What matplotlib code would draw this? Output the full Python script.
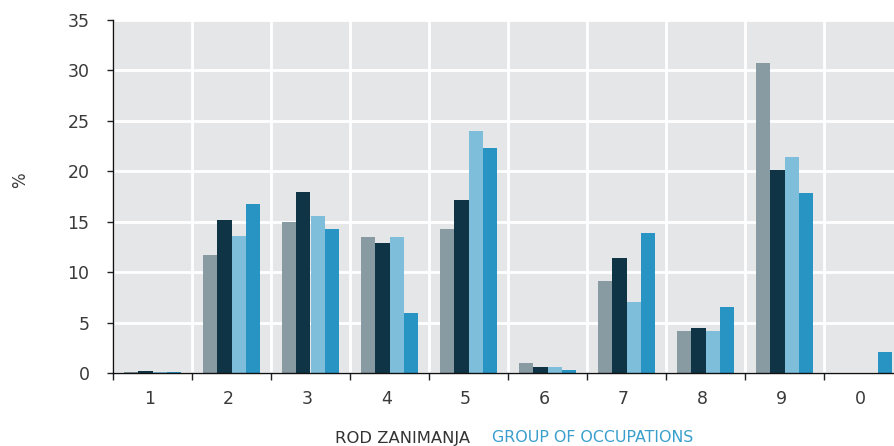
import numpy as np
import matplotlib.pyplot as plt
from matplotlib.ticker import FixedLocator

groups = ["1", "2", "3", "4", "5", "6", "7", "8", "9", "0"]
series_a = [0.1, 11.7, 15.0, 13.5, 14.3, 1.0, 9.1, 4.2, 30.7, 0.0]
series_b = [0.15, 15.2, 17.9, 12.9, 17.2, 0.6, 11.4, 4.5, 20.1, 0.0]
series_c = [0.1, 13.6, 15.6, 13.5, 24.0, 0.6, 7.0, 4.2, 21.4, 0.0]
series_d = [0.1, 16.8, 14.3, 5.9, 22.3, 0.3, 13.85, 6.5, 17.8, 2.05]
colors = ["#889ba2", "#0f3446", "#7fbedb", "#2794c3"]

fig = plt.figure(figsize=(8.94, 4.46), dpi=100)
ax = fig.add_axes([113 / 894, 73 / 446, 790 / 894, 353 / 446])
ax.set_facecolor("#e5e6e8")

x = np.arange(len(groups))
w = 0.18
for i, (vals, c) in enumerate(zip([series_a, series_b, series_c, series_d], colors)):
    ax.bar(x + (i - 1.5) * w, vals, width=w, color=c, zorder=3)

ax.set_xlim(-0.5, len(groups) - 0.5)
ax.set_ylim(0, 35)
ax.set_yticks(np.arange(0, 36, 5))
ax.set_xticks(x - 0.04)
ax.set_xticklabels(groups)
ax.xaxis.set_minor_locator(FixedLocator(np.arange(-0.5, len(groups), 1.0)))

ax.tick_params(axis="x", which="major", length=0, pad=12, labelsize=12.5, labelcolor="#3a3a3a")
ax.tick_params(axis="x", which="minor", length=5, width=1, color="#222222", direction="out")
ax.tick_params(axis="y", length=4, width=1, pad=13, labelsize=12.5, labelcolor="#3a3a3a", color="#222222")

ax.grid(axis="y", which="major", color="white", linewidth=2, zorder=1)
ax.grid(axis="x", which="minor", color="white", linewidth=2, zorder=1)
ax.grid(axis="x", which="major", visible=False)
ax.set_axisbelow(True)

for s in ["top", "right"]:
    ax.spines[s].set_visible(False)
for s in ["left", "bottom"]:
    ax.spines[s].set_color("#111111")
    ax.spines[s].set_linewidth(1)
    ax.spines[s].set_zorder(4)

fig.text(20 / 894, 1 - 180 / 446, "%", rotation=90, ha="center", va="center",
         fontsize=12, color="#3a3a3a")
fig.text(470 / 894, 1 - 438 / 446, "ROD ZANIMANJA", ha="right", va="center",
         fontsize=11.8, color="#333333")
fig.text(492 / 894, 1 - 438 / 446, "GROUP OF OCCUPATIONS", ha="left", va="center",
         fontsize=11.4, color="#3a9fcc")

fig.savefig("out.png", dpi=100)
